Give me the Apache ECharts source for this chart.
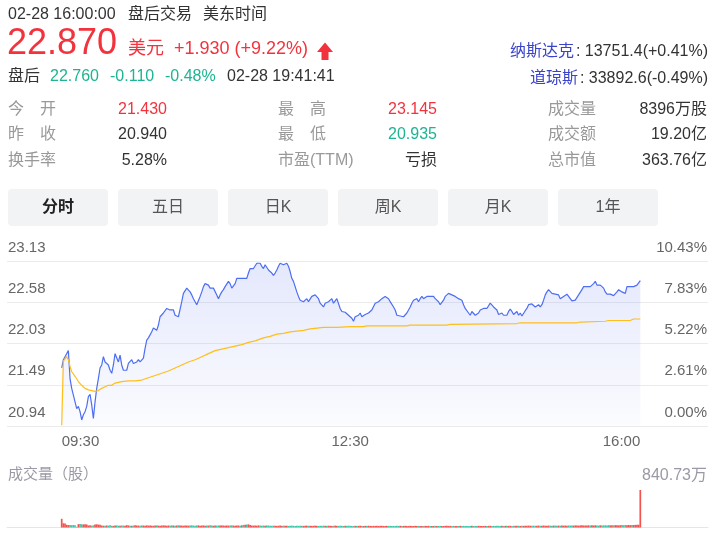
<!DOCTYPE html>
<html><head><meta charset="utf-8">
<script src="https://cdn.jsdelivr.net/npm/echarts@6/dist/echarts.min.js"></script>
<style>html,body{margin:0;padding:0;background:#fff}#c{width:713px;height:541px}</style>
</head><body><div id="c"></div>
<script>
// ---------- data ----------
const priceTickLabels = ['20.94','21.49','22.03','22.58','23.13'];
const pctTickLabels = ['0.00%','2.61%','5.22%','7.83%','10.43%'];
const timeTickLabels = ['09:30','12:30','16:00'];
const timeTickSlots = [0,173,347];
const prevClose = 20.94;
const priceMax = 23.13;
const pctMax = 10.43;
const volMax = 840.73;
const volMaxLabel = '840.73万';

const prices = [
21.71,21.82,21.86,21.88,21.94,21.57,21.44,21.35,21.26,21.17,
21.20,21.13,21.02,21.09,21.13,21.20,21.33,21.36,21.22,21.04,
21.26,21.44,21.57,21.71,21.75,21.86,21.79,21.79,21.75,21.68,
21.64,21.75,21.90,21.88,21.79,21.88,21.75,21.68,21.68,21.68,
21.77,21.75,21.82,21.77,21.79,21.79,21.82,21.79,21.77,21.84,
21.97,22.08,22.11,22.15,22.19,22.24,22.26,22.21,22.28,22.39,
22.39,22.44,22.46,22.50,22.52,22.48,22.46,22.48,22.41,22.41,
22.39,22.41,22.59,22.70,22.72,22.77,22.79,22.72,22.68,22.63,
22.59,22.55,22.57,22.66,22.72,22.79,22.83,22.81,22.81,22.77,
22.75,22.77,22.79,22.68,22.63,22.68,22.72,22.75,22.79,22.81,
22.86,22.83,22.77,22.79,22.83,22.90,22.92,22.90,22.92,22.90,
22.92,22.90,22.97,23.03,23.03,23.03,23.04,
23.10,23.12,23.10,23.06,23.03,23.08,23.06,23.01,22.99,22.97,
22.94,22.97,23.01,23.06,23.10,23.10,23.08,23.10,23.10,23.06,
22.99,22.90,22.86,22.79,22.72,22.66,22.61,22.59,22.59,22.61,
22.63,22.59,22.61,22.66,22.66,22.68,22.68,22.63,22.57,22.55,
22.52,22.57,22.55,22.59,22.61,22.63,22.57,22.59,22.63,22.61,
22.50,22.46,22.44,22.45,22.44,22.41,22.39,22.37,22.33,22.39,
22.37,22.41,22.44,22.39,22.41,22.42,22.41,22.44,22.46,22.48,
22.50,22.57,22.57,22.59,22.59,22.63,22.63,22.66,22.68,22.63,
22.59,22.57,22.52,22.48,22.41,22.40,22.40,22.39,22.39,22.40,
22.44,22.48,22.52,22.57,22.61,22.63,22.63,22.59,22.63,22.66,
22.63,22.63,22.66,22.68,22.66,22.66,22.66,22.63,22.63,22.59,
22.55,22.57,22.61,22.66,22.68,22.70,22.70,
22.68,22.66,22.66,22.66,22.63,22.63,22.61,22.55,22.50,22.48,
22.44,22.41,22.46,22.44,22.41,22.40,22.44,22.48,22.50,22.50,
22.52,22.50,22.52,22.57,22.55,22.52,22.50,22.48,22.42,22.41,
22.44,22.41,22.42,22.41,22.46,22.49,22.46,22.42,22.44,22.46,
22.41,22.44,22.40,22.42,22.47,22.50,22.55,22.57,22.56,22.55,
22.52,22.52,22.55,22.52,22.55,22.61,22.68,22.72,22.75,22.73,
22.70,22.70,22.69,22.68,22.68,22.63,22.63,22.66,22.68,22.69,
22.66,22.63,22.60,22.60,22.61,22.63,22.68,22.70,22.75,22.79,
22.79,22.79,22.81,22.79,22.81,22.83,22.86,22.81,22.79,22.81,
22.79,22.77,22.72,22.69,22.68,22.69,22.70,22.67,22.68,22.72,
22.75,22.77,22.72,22.71,22.70,22.79,22.79,22.79,22.77,22.79,
22.79,22.81,22.83,22.87
];

const avgSlots = [0,1,3,4,5,6,8,10,12,14,16,18,20,22,24,26,28,30,32,36,40,44,48,52,56,60,64,68,72,76,80,84,88,92,96,100,104,108,112,116,
117,121,125,129,133,137,141,145,149,153,157,161,165,173,181,183,207,209,231,233,234,273,275,309,311,326,328,341,343,347];
const avgPrices = [20.95,21.80,21.86,21.82,21.73,21.66,21.60,21.53,21.48,21.44,21.42,21.41,21.40,21.41,21.44,21.46,21.48,21.48,21.51,21.53,21.54,21.54,21.55,21.58,21.61,21.64,21.67,21.71,21.75,21.79,21.82,21.86,21.90,21.94,21.96,21.98,22.00,22.02,22.05,22.07,
22.08,22.11,22.13,22.16,22.17,22.19,22.20,22.21,22.23,22.24,22.25,22.25,22.25,22.26,22.26,22.27,22.27,22.28,22.28,22.29,22.30,22.30,22.31,22.31,22.32,22.33,22.34,22.34,22.36,22.36];

const volumes = [
195,95,90,60,55,58,52,55,50,15,75,78,72,70,74,68,
45,50,42,48,70,72,65,60,44,40,
38,45,42,50,40,36,44,48,41,39,
46,43,40,52,47,41,38,44,50,45,
42,39,47,44,40,48,43,46,41,38,
44,49,42,40,45,47,43,39,46,42,
48,44,41,45,50,46,43,40,47,44,
42,46,49,43,40,45,48,42,44,47,
41,45,43,48,44,40,46,42,45,43,
47,44,41,46,42,45,48,43,40,44,
46,42,49,58,62,66,70,55,45,42,
44,41,46,43,40,45,42,47,44,41,
38,42,40,36,39,43,37,41,38,40,
36,39,42,38,35,40,37,41,39,36,
38,42,37,40,36,39,41,38,35,40,
37,41,38,36,40,38,35,39,42,37,
36,40,38,35,39,37,41,38,36,34,
38,35,37,40,36,34,38,36,39,35,
33,37,35,38,34,36,39,35,33,37,
35,38,34,36,33,37,35,39,34,36,
38,35,33,37,36,34,38,35,37,33,
36,34,37,35,38,33,36,34,37,35,
34,37,35,33,36,38,34,36,35,37,
33,36,34,38,35,37,34,36,33,35,
37,34,36,35,38,34,36,33,37,35,
36,38,34,37,35,39,36,34,38,35,
37,40,36,38,35,39,37,41,38,36,
39,37,40,38,42,39,37,41,38,40,
42,39,41,44,40,38,43,41,39,42,
44,41,43,40,45,42,44,41,46,43,
45,42,47,44,43,46,48,45,44,47,
49,46,48,45,50,47,44,49,46,48,
50,47,52,48,51,49,53,50,48,52,
54,51,55,52,56,53,57,55,58,60,
62,840.73
];

const headTime = ['02-28 16:00:00','盘后交易','美东时间'];
const lastPrice = '22.870';
const currency = '美元';
const changeText = '+1.930 (+9.22%)';
const afterHours = ['盘后','22.760','-0.110','-0.48%','02-28 19:41:41'];
const indexNames = ['纳斯达克','道琼斯'];
const indexValues = [': 13751.4(+0.41%)',': 33892.6(-0.49%)'];
const infoLabels = [['今　开','最　高','成交量'],['昨　收','最　低','成交额'],['换手率','市盈(TTM)','总市值']];
const infoValues = [['21.430','23.145','8396万股'],['20.940','20.935','19.20亿'],['5.28%','亏损','363.76亿']];
const infoTone = [['up','up','flat'],['flat','down','flat'],['flat','flat','flat']];
const tabs = ['分时','五日','日K','周K','月K','1年'];
const volTitle = '成交量（股）';

// ---------- drawing ----------
const FONT = '"Liberation Sans", Arial, "Noto Sans CJK SC", sans-serif';
const RED = '#f2333d', GREEN = '#1db493', DARK = '#333333', GRAY = '#999999';
const toneColor = {up: RED, down: GREEN, flat: DARK};
const slots = prices.map((_, i) => String(i));
const volData = volumes.map((v, i) => ({
  value: v,
  itemStyle: {color: (i === 0 || prices[i] >= prices[i - 1]) ? '#f5524e' : '#3ec6a6'}
}));

function T(text, x, y, size, color, align, bold) {
  return {type: 'text', x: x, y: y, silent: true, z: 10,
    style: {text: text, fill: color, font: (bold ? 'bold ' : '') + size + 'px ' + FONT,
      textAlign: align || 'left', textVerticalAlign: 'middle'}};
}

const g = [];
g.push(T(headTime[0], 8, 15, 16, DARK));
g.push(T(headTime[1], 128, 15, 16, DARK));
g.push(T(headTime[2], 203, 15, 16, DARK));
g.push(T(lastPrice, 7, 44.5, 36, RED));
g.push(T(currency, 128, 49.5, 18, RED));
g.push(T(changeText, 174, 49.5, 18, RED));
g.push({type: 'polygon', silent: true, z: 10,
  shape: {points: [[317, 52], [325, 42.5], [333, 52], [328.5, 52], [328.5, 60], [321.5, 60], [321.5, 52]]},
  style: {fill: RED}});
g.push(T(afterHours[0], 8, 76.5, 16, DARK));
g.push(T(afterHours[1], 50, 76.5, 16, GREEN));
g.push(T(afterHours[2], 110, 76.5, 16, GREEN));
g.push(T(afterHours[3], 165, 76.5, 16, GREEN));
g.push(T(afterHours[4], 227, 76.5, 16, DARK));
g.push(T(indexNames[0], 510, 52, 16, '#3a44c8'));
g.push(T(indexValues[0], 708, 52, 16, DARK, 'right'));
g.push(T(indexNames[1], 530, 78.5, 16, '#3a44c8'));
g.push(T(indexValues[1], 708, 78.5, 16, DARK, 'right'));
const rowY = [109.5, 135, 160.5];
const colLabelX = [8, 278, 548];
const colValueX = [167, 437, 707];
for (let r = 0; r < 3; r++) {
  for (let c = 0; c < 3; c++) {
    g.push(T(infoLabels[r][c], colLabelX[c], rowY[r], 16, GRAY));
    g.push(T(infoValues[r][c], colValueX[c], rowY[r], 16, toneColor[infoTone[r][c]], 'right'));
  }
}
tabs.forEach((t, i) => {
  const x0 = 8 + i * 110;
  g.push({type: 'rect', silent: true, z: 5, shape: {x: x0, y: 189, width: 100, height: 37, r: 4}, style: {fill: '#f2f3f5'}});
  g.push(T(t, x0 + 50, 207.5, 16, i === 0 ? '#222222' : '#555555', 'center', i === 0));
});
g.push(T(volTitle, 8, 475, 15, '#9a9aa6'));

const chart = echarts.init(document.getElementById('c'), null, {renderer: 'canvas'});
chart.setOption({
  animation: false,
  backgroundColor: '#ffffff',
  graphic: {elements: g},
  grid: [
    {left: 7, right: 5, top: 261, height: 165},
    {left: 61.7, right: 72.7, top: 261, height: 165},
    {left: 7, right: 5, top: 490, height: 37.5},
    {left: 61.7, right: 72.7, top: 490, height: 37.5}
  ],
  xAxis: [
    {gridIndex: 0, type: 'value', min: 0, max: 1, show: false},
    {gridIndex: 1, type: 'category', data: slots, boundaryGap: false,
      axisLine: {show: false}, axisTick: {show: false}, splitLine: {show: false},
      axisLabel: {
        interval: (i) => timeTickSlots.indexOf(i) >= 0,
        formatter: (v) => timeTickLabels[timeTickSlots.indexOf(Number(v))],
        color: '#666666', fontSize: 15, fontFamily: FONT, margin: 8,
        alignMinLabel: 'left', alignMaxLabel: 'right', showMinLabel: true, showMaxLabel: true
      }},
    {gridIndex: 2, type: 'value', min: 0, max: 1, axisLine: {show: true, lineStyle: {color: '#e6e6e6', width: 1}},
      axisTick: {show: false}, axisLabel: {show: false}, splitLine: {show: false}},
    {gridIndex: 3, type: 'category', data: slots, boundaryGap: false, show: false}
  ],
  yAxis: [
    {gridIndex: 0, type: 'value', position: 'left', min: 0, max: pctMax, interval: pctMax / 4,
      axisLine: {show: false}, axisTick: {show: false},
      splitLine: {show: true, lineStyle: {color: '#ebebeb', width: 1}},
      axisLabel: {inside: true, margin: 1, verticalAlign: 'bottom', padding: [0, 0, 6, 0],
        color: '#666666', fontSize: 15, fontFamily: FONT,
        formatter: (v) => priceTickLabels[Math.round(v / (pctMax / 4))]}},
    {gridIndex: 0, type: 'value', position: 'right', min: 0, max: pctMax, interval: pctMax / 4,
      axisLine: {show: false}, axisTick: {show: false}, splitLine: {show: false},
      axisLabel: {inside: true, margin: 1, verticalAlign: 'bottom', padding: [0, 0, 6, 0],
        color: '#666666', fontSize: 15, fontFamily: FONT,
        formatter: (v) => pctTickLabels[Math.round(v / (pctMax / 4))]}},
    {gridIndex: 1, type: 'value', min: prevClose, max: priceMax, show: false},
    {gridIndex: 2, type: 'value', position: 'right', min: 0, max: volMax, interval: volMax,
      axisLine: {show: false}, axisTick: {show: false}, splitLine: {show: false},
      axisLabel: {inside: true, margin: 1, verticalAlign: 'bottom', padding: [0, 0, 6, 0],
        color: '#9a9aa6', fontSize: 16, fontFamily: FONT,
        formatter: (v) => v > 0 ? volMaxLabel : ''}},
    {gridIndex: 3, type: 'value', min: 0, max: volMax, show: false}
  ],
  series: [
    {type: 'line', xAxisIndex: 1, yAxisIndex: 2, data: prices, showSymbol: false, silent: true,
      lineStyle: {color: '#4d6ef3', width: 1.2},
      areaStyle: {origin: 'start', color: new echarts.graphic.LinearGradient(0, 0, 0, 1, [
        {offset: 0, color: 'rgba(80,105,235,0.22)'}, {offset: 1, color: 'rgba(80,105,235,0.03)'}])}},
    {type: 'line', xAxisIndex: 1, yAxisIndex: 2, data: avgSlots.map((s, i) => [s, avgPrices[i]]),
      showSymbol: false, silent: true, lineStyle: {color: '#ffbe1a', width: 1.2}},
    {type: 'bar', xAxisIndex: 3, yAxisIndex: 4, data: volData, barWidth: 1.7, silent: true}
  ]
});
</script></body></html>
